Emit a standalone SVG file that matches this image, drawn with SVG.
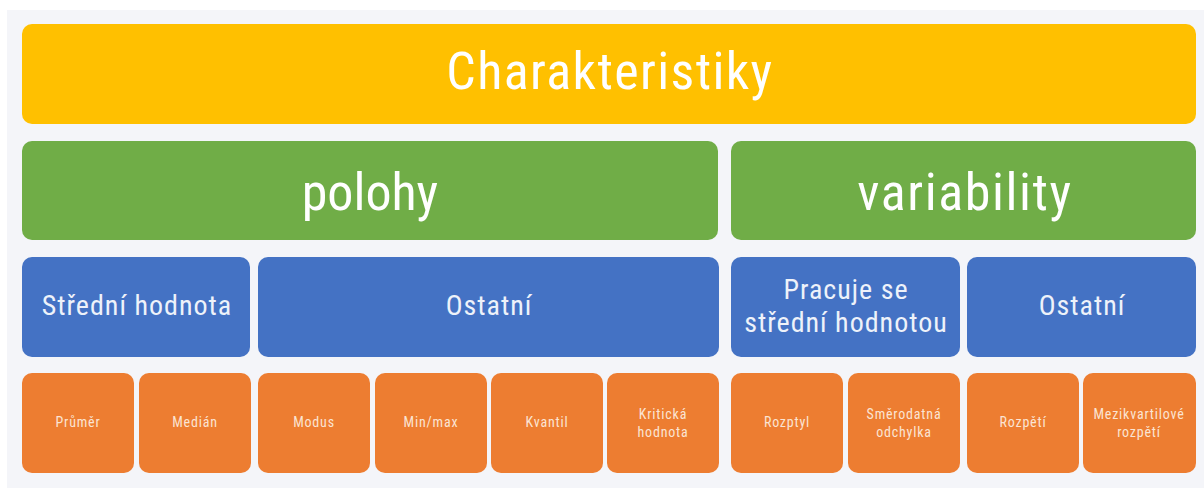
<svg xmlns="http://www.w3.org/2000/svg" width="1204" height="488" viewBox="0 0 1204 488">
<style>
text{font-family:"Roboto Condensed","DejaVu Sans Condensed",Roboto,sans-serif;font-stretch:condensed;text-anchor:middle}
.y{fill:#FFC000}.g{fill:#70AD47}.b{fill:#4472C4}.o{fill:#ED7D31}
.t1{fill:#FFFFFF;font-size:52px;letter-spacing:1.4px}
.t2{fill:#FFFFFF;font-size:52px}
.t3{fill:#EEF2FA;font-size:28px;letter-spacing:1px}
.t4{fill:#FBE4D3;font-size:14px;letter-spacing:0.8px}
</style>
<rect x="7" y="10" width="1197" height="478" fill="#F4F5F9"/>
<g id="charakteristiky"><rect class="y" x="22" y="24" width="1174" height="100" rx="10"/><text class="t1" x="610" y="89">Charakteristiky</text></g>
<g id="polohy"><rect class="g" x="22" y="141" width="696" height="99" rx="10"/><text class="t2" x="370" y="210">polohy</text></g>
<g id="variability"><rect class="g" x="731" y="141" width="465" height="99" rx="10"/><text class="t2" x="965" y="210" style="letter-spacing:1.6px">variability</text></g>
<g id="stredni-hodnota"><rect class="b" x="22" y="257" width="228" height="100" rx="10"/><text class="t3" x="137" y="315">Střední hodnota</text></g>
<g id="ostatni-polohy"><rect class="b" x="258" y="257" width="461" height="100" rx="10"/><text class="t3" x="489" y="315">Ostatní</text></g>
<g id="pracuje"><rect class="b" x="731" y="257" width="229" height="100" rx="10"/><text class="t3" x="846" y="299">Pracuje se</text><text class="t3" x="846" y="332">střední hodnotou</text></g>
<g id="ostatni-variability"><rect class="b" x="967" y="257" width="229" height="100" rx="10"/><text class="t3" x="1082" y="315">Ostatní</text></g>
<g id="prumer"><rect class="o" x="22" y="373" width="112" height="100" rx="10"/><text class="t4" x="78" y="427">Průměr</text></g>
<g id="median"><rect class="o" x="139" y="373" width="112" height="100" rx="10"/><text class="t4" x="195" y="427">Medián</text></g>
<g id="modus"><rect class="o" x="258" y="373" width="112" height="100" rx="10"/><text class="t4" x="314" y="427">Modus</text></g>
<g id="minmax"><rect class="o" x="375" y="373" width="112" height="100" rx="10"/><text class="t4" x="431" y="427">Min/max</text></g>
<g id="kvantil"><rect class="o" x="491" y="373" width="112" height="100" rx="10"/><text class="t4" x="547" y="427">Kvantil</text></g>
<g id="kriticka"><rect class="o" x="607" y="373" width="112" height="100" rx="10"/><text class="t4" x="663" y="419">Kritická</text><text class="t4" x="663" y="437">hodnota</text></g>
<g id="rozptyl"><rect class="o" x="731" y="373" width="112" height="100" rx="10"/><text class="t4" x="787" y="427">Rozptyl</text></g>
<g id="smerodatna"><rect class="o" x="848" y="373" width="112" height="100" rx="10"/><text class="t4" x="904" y="419">Směrodatná</text><text class="t4" x="904" y="437">odchylka</text></g>
<g id="rozpeti"><rect class="o" x="967" y="373" width="112" height="100" rx="10"/><text class="t4" x="1023" y="427">Rozpětí</text></g>
<g id="mezikvartilove"><rect class="o" x="1083" y="373" width="113" height="100" rx="10"/><text class="t4" x="1139" y="419">Mezikvartilové</text><text class="t4" x="1139" y="437">rozpětí</text></g>
<g id="connectors"></g>
</svg>
